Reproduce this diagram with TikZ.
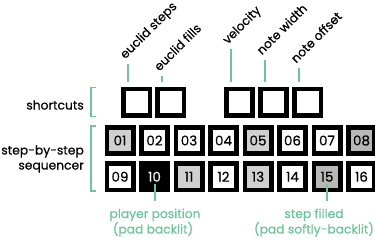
\documentclass[tikz,border=0pt]{standalone}
\usepackage{fontspec}
\setmainfont{Poppins}[FakeBold=0.5]
\usetikzlibrary{calc}
\definecolor{lgreen}{HTML}{6CC49A}
\definecolor{padlight}{HTML}{D0D0D0}
\definecolor{paddark}{HTML}{B8B8B8}
\begin{document}
\begin{tikzpicture}[x=1pt,y=-1pt,
  pad/.style={draw=black, line width=4.7pt, minimum size=26.3pt, inner sep=0pt, fill=white,
    font=\fontsize{13.5}{13.5}\selectfont},
  lit/.style={fill=black, text=white},
  soft/.style={fill=padlight},
  softer/.style={fill=paddark},
  leader/.style={draw=lgreen, line width=2pt},
  bracket/.style={draw=lgreen, line width=1.8pt},
  rotlabel/.style={rotate=45, anchor=base west, inner sep=0pt, font=\fontsize{12.3}{12.3}\selectfont},
  sidelabel/.style={inner sep=0pt, anchor=base east, font=\fontsize{12.3}{12.3}\selectfont},
  botlabel/.style={inner sep=0pt, text=lgreen, anchor=base, font=\fontsize{12.3}{12.3}\selectfont}]
\useasboundingbox (0,0) rectangle (375,241);

% shortcut pads
\node[pad] (sc1) at (136.7,102) {};
\node[pad] (sc2) at (170.9,102) {};
\node[pad] (sc3) at (239.3,102) {};
\node[pad] (sc4) at (273.5,102) {};
\node[pad] (sc5) at (307.7,102) {};

% sequencer pads
\foreach \i/\t/\s in {0/01/soft,1/02/,2/03/,3/04/,4/05/soft,5/06/,6/07/,7/08/softer}{
  \node[pad,\s] (p\t) at (120+34.5*\i,140.5) {\t};
}
\foreach \i/\t/\s in {0/09/,1/10/lit,2/11/soft,3/12/,4/13/soft,5/14/,6/15/softer,7/16/}{
  \node[pad,\s] (p\t) at (120+34.5*\i,176.7) {\t};
}

% leaders and rotated labels
\foreach \n/\len/\txt in {1/18.3/euclid steps,2/6/euclid fills,3/33/velocity,4/22.3/note width,5/14/note offset}{
  \draw[leader] ([xshift=-8.8pt,yshift=4.2pt]sc\n.north) -- ++(0,-\len) coordinate (t\n);
  \node[rotlabel] (lab\n) at ($(t\n)+(-2.8,-4.5)$) {\txt};
}

% side labels
\node[sidelabel] (shortlbl) at (84,109.5) {shortcuts};
\node[sidelabel] (seqlbl1) at (84,154.5) {step-by-step};
\node[sidelabel] (seqlbl2) at (84,169.5) {sequencer};

% brackets
\draw[bracket] (95.5,87.5) -- (90.7,87.5) -- (90.7,116.5) -- (95.5,116.5);
\draw[bracket] (95.5,126) -- (90.7,126) -- (90.7,191) -- (95.5,191);

% bottom labels
\node[botlabel] (pplbl1) at (155,218) {player position};
\node[botlabel] (pplbl2) at (153,233.5) {(pad backlit)};
\node[botlabel] (sflbl1) at (314,218) {step filled};
\node[botlabel] (sflbl2) at (314,233.5) {(pad softly-backlit)};
\draw[leader] ([yshift=8pt]p10.south) -- ++(0,17);
\draw[leader] ([yshift=8pt]p15.south) -- ++(0,17);
\end{tikzpicture}
\end{document}
